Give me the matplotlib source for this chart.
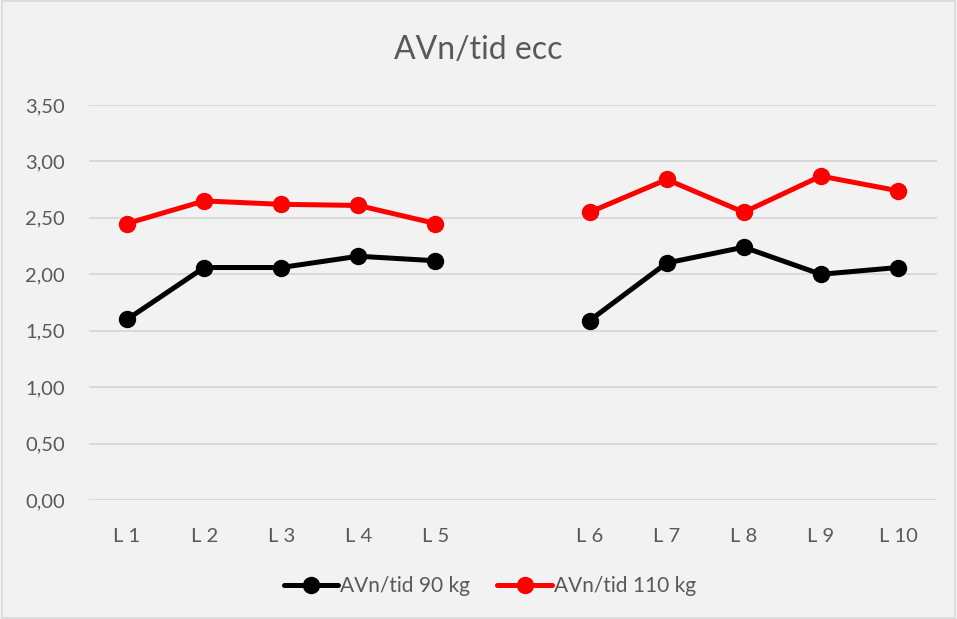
import matplotlib
matplotlib.use("Agg")
import matplotlib.pyplot as plt
import numpy as np
from matplotlib.ticker import FuncFormatter, MultipleLocator
from matplotlib.patches import Rectangle

categories = ["L 1", "L 2", "L 3", "L 4", "L 5", "", "L 6", "L 7", "L 8", "L 9", "L 10"]
series_90 = [1.60, 2.06, 2.06, 2.16, 2.12, np.nan, 1.59, 2.10, 2.24, 2.00, 2.06]
series_110 = [2.45, 2.65, 2.62, 2.61, 2.45, np.nan, 2.55, 2.84, 2.55, 2.87, 2.74]
labels = ["AVn/tid 90 kg", "AVn/tid 110 kg"]
colors = ["#000000", "#ff0000"]
title = "AVn/tid ecc"

plt.rcParams['font.family'] = ['Lato', 'DejaVu Sans']

W, H = 957, 619
fig = plt.figure(figsize=(W/100, H/100), dpi=100, facecolor="#f2f2f2")
ax = fig.add_axes([88.5/W, 1-500/H, (936.5-88.5)/W, (500-105)/H])
ax.set_facecolor("#f2f2f2")

x = np.arange(len(categories))
for vals, lab, c in zip([series_90, series_110], labels, colors):
    ax.plot(x, vals, color=c, lw=3.6, marker='o', ms=11.5, label=lab, solid_capstyle='round')

ax.set_xlim(-0.5, len(categories)-0.5)
ax.set_ylim(0, 3.5)
ax.yaxis.set_major_locator(MultipleLocator(0.5))
ax.yaxis.set_major_formatter(FuncFormatter(lambda v, p: f"{v:.2f}".replace('.', ',')))
ax.set_xticks(x)
ax.set_xticklabels(categories)
ax.tick_params(axis='both', length=0, labelsize=14.5, colors="#595959")
ax.tick_params(axis='x', pad=20)
ax.tick_params(axis='y', pad=17)
ax.grid(axis='y', color="#d9d9d9", lw=1.4)
ax.set_axisbelow(True)
for s in ax.spines.values():
    s.set_visible(False)

fig.text(0.5, 1-50/H, title, ha='center', va='center', fontsize=23, color="#595959")

leg = fig.legend(loc='center', bbox_to_anchor=(0.512, 1-586/H), ncol=2, frameon=False,
                 fontsize=15, handlelength=2.6, columnspacing=1.3, handletextpad=0.1)
for t in leg.get_texts():
    t.set_color("#595959")

fig.patches.append(Rectangle((0.002, 0.002), 0.996, 0.996, transform=fig.transFigure,
                             fill=False, edgecolor="#d9d9d9", lw=1.2))

fig.savefig("out.png", dpi=100, facecolor=fig.get_facecolor())
